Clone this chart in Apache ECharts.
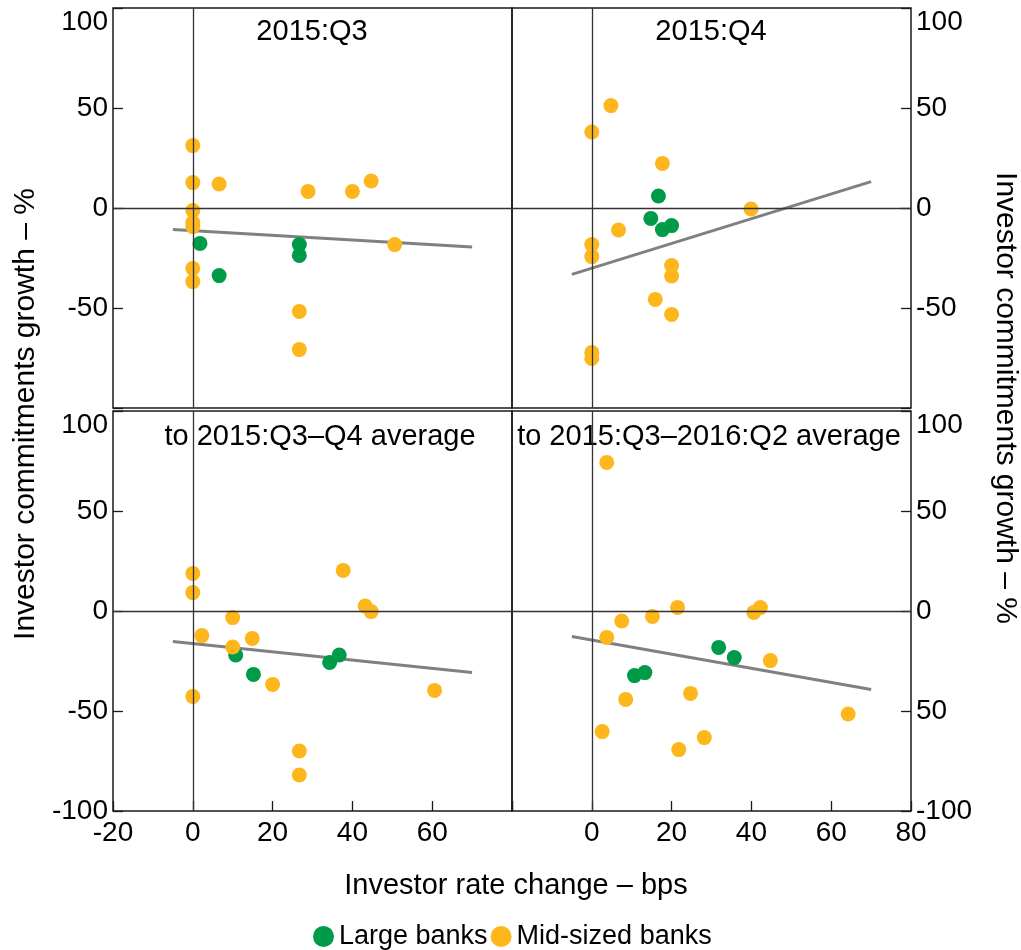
<!DOCTYPE html>
<html>
<head>
<meta charset="utf-8">
<script src="https://cdn.jsdelivr.net/npm/echarts@6/dist/echarts.min.js"></script>
<style>
  html, body { margin: 0; padding: 0; background: #fff; }
  #chart { width: 1021px; height: 950px; }
</style>
</head>
<body>
<div id="chart"></div>
<script>
// Panel titles
const panelTitles = ['2015:Q3', '2015:Q4', 'to 2015:Q3\u2013Q4 average', 'to 2015:Q3\u20132016:Q2 average'];
const seriesNames = ['Large banks', 'Mid-sized banks'];

// [investor rate change (bps), investor commitments growth (%)]
const q3Large = [[1.8, -17.7], [6.6, -33.8], [26.7, -18.3], [26.7, -23.7]];
const q3Mid = [[0, 31.2], [0, 12.7], [6.6, 12], [28.9, 8.3], [40, 8.3], [44.7, 13.5], [0, -1.3], [0, -7.3],
  [0, -9.3], [50.6, -18.3], [0, -30.2], [0, -36.8], [26.7, -51.7], [26.7, -70.8]];
const q3Trend = [[-5, -10.7], [70, -19.5]];

const q4Large = [[16.7, 6], [14.8, -5.2], [17.7, -10.8], [20, -8.8]];
const q4Mid = [[4.8, 51.2], [0, 38], [17.7, 22.3], [39.9, -0.5], [6.7, -11], [0, -18.3], [0, -24.3],
  [20, -28.8], [20, -34], [15.9, -45.7], [20, -53.2], [0, -72.2], [0, -75.2]];
const q4Trend = [[-5, -33.2], [70, 13.2]];

const avgQ4Large = [[10.75, -22], [15.2, -31.7], [34.3, -25.7], [36.7, -22]];
const avgQ4Mid = [[0, 18.8], [0, 9.2], [2.25, -12.3], [10, -3.3], [10, -18], [14.9, -13.7], [20, -36.7],
  [0, -42.7], [37.7, 20.3], [43.2, 2.5], [44.7, -0.3], [60.6, -39.7], [26.7, -70], [26.7, -82]];
const avgQ4Trend = [[-5, -15.2], [70, -30.7]];

const avgQ2Large = [[10.7, -32.3], [13.3, -30.8], [31.8, -18.2], [35.7, -23.3]];
const avgQ2Mid = [[3.75, 74.3], [21.5, 1.8], [15.2, -2.7], [7.5, -5], [3.75, -13.2], [40.6, -0.7],
  [42.25, 1.7], [44.75, -24.8], [24.75, -41.2], [8.5, -44.2], [2.6, -60.3], [28.2, -63.3], [21.8, -69.3], [64.25, -51.5]];
const avgQ2Trend = [[-5, -12.7], [70, -39.3]];

// Tick labels, one per tick from min to max
const xLabelsLeft = ['-20', '0', '20', '40', '60', ''];
const xLabelsRight = ['', '0', '20', '40', '60', '80'];
const yLabelsTop = ['', '-50', '0', '50', '100'];
const yLabelsBottomLeft = ['-100', '-50', '0', '50', '100'];
const yLabelsBottomRight = ['-100', '50', '0', '50', '100'];

const FONT = "'Liberation Sans', Arial, sans-serif";
const INK = '#1a1a1a';
const GREEN = '#009B48';
const ORANGE = '#FDB71C';

const panels = [
  { large: q3Large, mid: q3Mid, trend: q3Trend },
  { large: q4Large, mid: q4Mid, trend: q4Trend },
  { large: avgQ4Large, mid: avgQ4Mid, trend: avgQ4Trend },
  { large: avgQ2Large, mid: avgQ2Mid, trend: avgQ2Trend }
];

const grids = [
  { left: 113, top: 8, width: 399, height: 400 },
  { left: 512, top: 8, width: 399, height: 400 },
  { left: 113, top: 411, width: 399, height: 400 },
  { left: 512, top: 411, width: 399, height: 400 }
].map(g => Object.assign({ show: true, borderColor: INK, borderWidth: 1.5, backgroundColor: 'transparent' }, g));

const tickStyle = { show: true, inside: true, length: 10, lineStyle: { color: INK, width: 1.3 } };

function xAxisFor(i) {
  const bottom = i >= 2;
  const labels = i === 2 ? xLabelsLeft : xLabelsRight;
  return {
    type: 'value', gridIndex: i, min: -20, max: 80, interval: 20,
    axisLine: { show: false, onZero: false },
    splitLine: { show: false },
    axisTick: bottom ? tickStyle : { show: false },
    axisLabel: bottom ? {
      show: true, margin: 8, fontSize: 28, fontFamily: FONT, color: '#000',
      formatter: (v) => labels[Math.round((v + 20) / 20)]
    } : { show: false }
  };
}

function yAxisFor(i) {
  const right = i % 2 === 1;
  const labels = i < 2 ? yLabelsTop : (i === 2 ? yLabelsBottomLeft : yLabelsBottomRight);
  return {
    type: 'value', gridIndex: i, min: -100, max: 100, interval: 50,
    position: right ? 'right' : 'left',
    axisLine: { show: false, onZero: false },
    splitLine: { show: false },
    axisTick: tickStyle,
    axisLabel: {
      show: true, margin: 5, fontSize: 28, fontFamily: FONT, color: '#000',
      formatter: (v) => {
        const s = labels[Math.round((v + 100) / 50)];
        return v === 100 ? '{t|' + s + '}' : s;
      },
      rich: { t: { fontSize: 28, fontFamily: FONT, color: '#000', padding: [28, 0, 0, 0] } }
    }
  };
}

const series = [];
panels.forEach((p, i) => {
  // zero reference lines
  series.push({
    type: 'line', xAxisIndex: i, yAxisIndex: i, data: [], z: 1, silent: true,
    markLine: {
      silent: true, symbol: ['none', 'none'], label: { show: false },
      lineStyle: { color: '#333', width: 1.3, type: 'solid' },
      data: [{ xAxis: 0 }, { yAxis: 0 }]
    }
  });
  series.push({
    type: 'line', xAxisIndex: i, yAxisIndex: i, data: p.trend, z: 2,
    symbol: 'none', lineStyle: { color: '#808080', width: 3 }, silent: true
  });
  series.push({
    name: seriesNames[0], type: 'scatter', xAxisIndex: i, yAxisIndex: i, data: p.large, z: 3,
    symbol: 'circle', symbolSize: 15, itemStyle: { color: GREEN, opacity: 1 }
  });
  series.push({
    name: seriesNames[1], type: 'scatter', xAxisIndex: i, yAxisIndex: i, data: p.mid, z: 4,
    symbol: 'circle', symbolSize: 15, itemStyle: { color: ORANGE, opacity: 1 }
  });
});

function label(text, x, y, size, rotation) {
  return {
    type: 'text', x: x, y: y, rotation: rotation || 0, silent: true,
    style: {
      text: text, fill: '#000', font: size + 'px ' + FONT,
      textAlign: 'center', align: 'center', textVerticalAlign: 'middle', verticalAlign: 'middle'
    }
  };
}

const titlePos = [[312, 32], [711, 32], [320, 437], [709, 437]];
const graphics = panelTitles.map((t, i) => label(t, titlePos[i][0], titlePos[i][1], 29));
graphics.push(label('Investor rate change \u2013 bps', 516, 886, 29));
graphics.push(label('Investor commitments growth \u2013 %', 26, 414, 30, Math.PI / 2));
graphics.push(label('Investor commitments growth \u2013 %', 1005, 398, 30, -Math.PI / 2));

const chart = echarts.init(document.getElementById('chart'), null, { renderer: 'canvas' });
chart.setOption({
  animation: false,
  backgroundColor: '#fff',
  textStyle: { fontFamily: FONT },
  grid: grids,
  xAxis: [0, 1, 2, 3].map(xAxisFor),
  yAxis: [0, 1, 2, 3].map(yAxisFor),
  legend: {
    data: seriesNames, left: 313, top: 923, icon: 'circle',
    itemWidth: 21, itemHeight: 21, itemGap: 3, padding: 0,
    textStyle: { fontSize: 27, fontFamily: FONT, color: '#000' }
  },
  graphic: graphics,
  series: series
});
</script>
</body>
</html>
